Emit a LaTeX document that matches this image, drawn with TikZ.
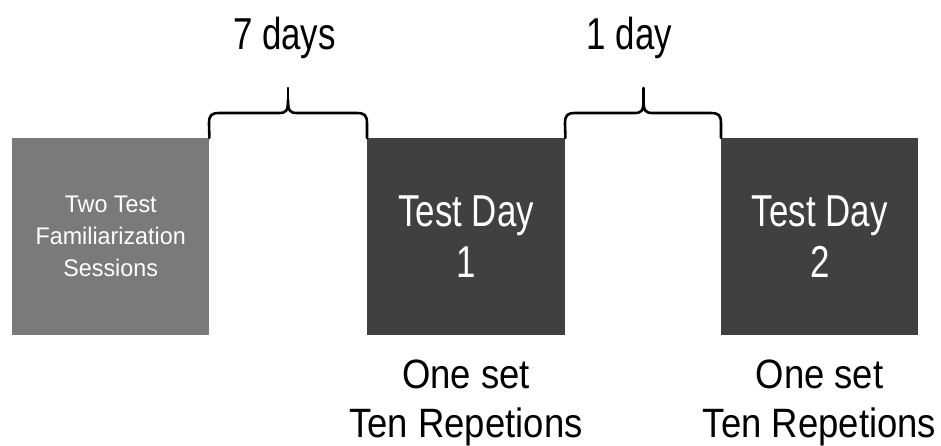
\documentclass[tikz,border=0pt]{standalone}
\usepackage{fontspec}
\setmainfont{Liberation Sans}
\newfontfamily\bigfont[FakeStretch=0.78]{Liberation Sans}
\newfontfamily\botfont[FakeStretch=0.89]{Liberation Sans}
\newfontfamily\famfont[FakeStretch=0.97]{Liberation Sans}
\definecolor{famgray}{HTML}{7A7A7A}
\definecolor{testgray}{HTML}{404040}
\begin{document}
\begin{tikzpicture}[x=1pt,y=-1pt]
\useasboundingbox (0,0) rectangle (941,446);
\tikzset{
  stage/.style={minimum width=197pt, minimum height=197pt, inner sep=0pt,
    anchor=north west, align=center, text=white},
  famstage/.style={stage, fill=famgray, font=\famfont\fontsize{24}{32}\selectfont},
  teststage/.style={stage, fill=testgray, font=\bigfont\fontsize{44.7}{51}\selectfont},
  toplabel/.style={anchor=base, inner sep=0pt, font=\bigfont\fontsize{44.7}{51}\selectfont},
  botlabel/.style={anchor=base, inner sep=0pt, font=\botfont\fontsize{41}{49}\selectfont},
  bracestyle/.style={draw=black, line width=2.6pt, line join=round, line cap=round}
}
\node[famstage] (fam) at (12,138) {Two Test\\Familiarization\\Sessions};
\node[teststage, minimum width=198pt] (t1) at (367,138) {Test Day\\1};
\node[teststage] (t2) at (721,138) {Test Day\\2};

\node[toplabel] (d7) at (284.5,50) {7 days};
\node[toplabel] (d1) at (629.5,50) {1 day};

\node[botlabel] (s1a) at (466,388) {One set};
\node[botlabel] (s1b) at (466,437) {Ten Repetions};
\node[botlabel] (s2a) at (819.5,388) {One set};
\node[botlabel] (s2b) at (819.5,437) {Ten Repetions};

\coordinate (tip1) at (288,88);
\coordinate (tip2) at (643.5,88);

\draw[bracestyle] (fam.north east) -- (209,124) .. controls (209,115) and (211,113) .. (220,113)
  -- (279,113) .. controls (286,113) and (288,111) .. (288,100)
  .. controls (288,111) and (290,113) .. (297,113) -- (356,113)
  .. controls (365,113) and (367,115) .. (367,124) -- (t1.north west);
\draw[bracestyle] (tip1) -- (288,100);

\draw[bracestyle] (t1.north east) -- (565,124) .. controls (565,115) and (567,113) .. (576,113)
  -- (634.5,113) .. controls (641.5,113) and (643.5,111) .. (643.5,100)
  .. controls (643.5,111) and (645.5,113) .. (652.5,113) -- (710,113)
  .. controls (719,113) and (721,115) .. (721,124) -- (t2.north west);
\draw[bracestyle] (tip2) -- (643.5,100);
\end{tikzpicture}
\end{document}
